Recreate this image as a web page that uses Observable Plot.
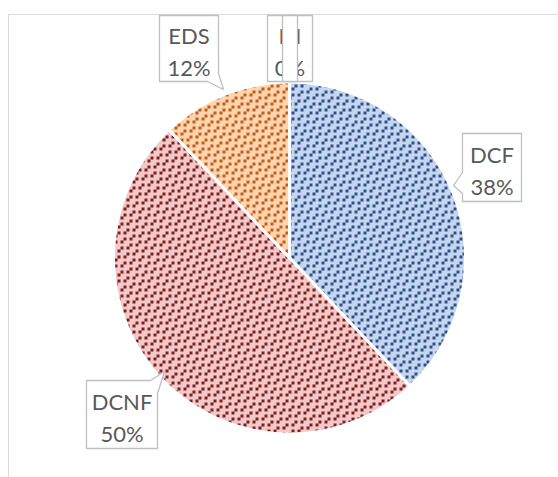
<!DOCTYPE html>
<html><head><meta charset="utf-8">
<script src="https://cdn.jsdelivr.net/npm/d3@7"></script>
<script src="https://cdn.jsdelivr.net/npm/@observablehq/plot@0.6"></script>
<style>
html,body{margin:0;padding:0;background:#fff;}
#wrap{position:relative;width:558px;height:477px;overflow:hidden;}
#frame{position:absolute;left:8px;top:14px;width:700px;height:600px;border:1.5px solid #d9d9d9;box-sizing:border-box;}
#chart{position:absolute;left:0;top:0;}
</style></head><body>
<div id="wrap"><div id="frame"></div><div id="chart"></div></div>
<script>
// ---- data ----
const categories = ["DCF", "DCNF", "EDS", "NI"];
const values = [38, 50, 12, 0];
// ---- styles ----
const bgColors = {DCF: "#c7d6ec", DCNF: "#eecaca", EDS: "#fcd6b2", NI: "#c7d6ec"};
const fgColors = {DCF: "#2b5290", DCNF: "#8a1b1b", EDS: "#c75c10", NI: "#2b5290"};
// ---- layout (pixels) ----
const W = 558, H = 477, CX = 289, CY = 257.5, R = 176;
const labelLayout = [
  {key: "EDS", box: [159, 15, 218, 81], ptr: {side: "bottomright", tip: [223, 89], a: [218, 73], b: [207, 81]}},
  {key: "DCF", box: [462, 133, 521, 201], ptr: {side: "left", tip: [453, 185], a: [462, 193], b: [462, 172]}},
  {key: "DCNF", box: [86, 380, 157, 448], ptr: {side: "topright", tip: [164, 371], a: [150, 380], b: [157, 393]}},
  {key: "NI", box: [267, 15, 312, 81], ptr: null}
];
const overlayBoxes = [[282, 15, 297, 81]];

const px2x = p => (p - CX) / R;
const py2y = p => (CY - p) / R;

const total = d3.sum(values);
const rows = categories.map((c, i) => ({key: c, value: values[i]}));
const arcs = d3.pie().sort(null).value(d => d.value)(rows);

// slice polygons from pie angles
const slicePts = [];
for (const a of arcs) {
  if (a.value <= 0) continue;
  const k = a.data.key;
  slicePts.push({key: k, x: 0, y: 0});
  const n = Math.max(2, Math.ceil((a.endAngle - a.startAngle) / 0.01));
  for (let j = 0; j <= n; j++) {
    const t = a.startAngle + (a.endAngle - a.startAngle) * j / n;
    slicePts.push({key: k, x: Math.sin(t), y: Math.cos(t)});
  }
  slicePts.push({key: k, x: 0, y: 0});
}

// callout box polygons
function boxPoly(id, box, ptr) {
  const [x0, y0, x1, y1] = box;
  let pts;
  if (!ptr) pts = [[x0, y0], [x1, y0], [x1, y1], [x0, y1], [x0, y0]];
  else if (ptr.side === "bottomright") pts = [[x0, y0], [x1, y0], ptr.a, ptr.tip, ptr.b, [x0, y1], [x0, y0]];
  else if (ptr.side === "left") pts = [[x0, y0], [x1, y0], [x1, y1], [x0, y1], ptr.a, ptr.tip, ptr.b, [x0, y0]];
  else if (ptr.side === "topright") pts = [[x0, y0], ptr.a, ptr.tip, ptr.b, [x1, y1], [x0, y1], [x0, y0]];
  return pts.map(([px, py]) => ({id, x: px2x(px), y: py2y(py)}));
}
const boxPts = labelLayout.flatMap(l => boxPoly(l.key, l.box, l.ptr));
const overPts = overlayBoxes.flatMap((b, i) => boxPoly("ov" + i, b, null));
const labels = labelLayout.map(l => {
  const v = values[categories.indexOf(l.key)];
  return {
    text: l.key + "\n" + Math.round(v / total * 100) + "%",
    x: px2x((l.box[0] + l.box[2]) / 2),
    y: py2y((l.box[1] + l.box[3]) / 2)
  };
});

const font = "Lato, 'Open Sans', sans-serif";
const svg = Plot.plot({
  width: W, height: H,
  marginTop: 0, marginRight: 0, marginBottom: 0, marginLeft: 0,
  x: {domain: [-CX / R, (W - CX) / R], axis: null},
  y: {domain: [-(H - CY) / R, CY / R], axis: null},
  color: {type: "identity"},
  style: {background: "transparent", fontFamily: font},
  marks: [
    Plot.line(slicePts, {x: "x", y: "y", z: "key", fill: d => `url(#pat-${d.key})`, stroke: "#ffffff", strokeWidth: 3, strokeLinejoin: "round", curve: "linear"}),
    Plot.line(boxPts, {x: "x", y: "y", z: "id", fill: "#ffffff", stroke: "#bfbfbf", strokeWidth: 1.3, strokeLinejoin: "miter"}),
    Plot.text(labels, {x: "x", y: "y", text: "text", fontSize: 22, fill: "#595959", lineHeight: 1.42, textAnchor: "middle", lineAnchor: "middle", dy: 1.5, fontFamily: font}),
    Plot.line(overPts, {x: "x", y: "y", z: "id", fill: "#ffffff", stroke: "#bfbfbf", strokeWidth: 1.3, strokeLinejoin: "miter"})
  ]
});

// pattern fills: staggered dashed upward-diagonal dots
const defs = d3.select(svg).insert("defs", ":first-child");
const cell = 3, nCells = 8;
const mod = (a, m) => ((a % m) + m) % m;
for (const c of categories) {
  const size = cell * nCells;
  const p = defs.append("pattern").attr("id", "pat-" + c)
    .attr("patternUnits", "userSpaceOnUse").attr("width", size).attr("height", size);
  p.append("rect").attr("width", size).attr("height", size).attr("fill", bgColors[c]);
  for (let col = 0; col < nCells; col++) for (let row = 0; row < nCells; row++) {
    if ((col + row) % 2 !== 0) continue;
    const u = (col + row) / 2, v = (col - row) / 2;
    if (mod(v + 2 * u, 4) <= 1) {
      p.append("rect").attr("x", col * cell).attr("y", row * cell).attr("width", cell).attr("height", cell).attr("fill", fgColors[c]);
    }
  }
}
document.getElementById("chart").appendChild(svg);
</script>
</body></html>
